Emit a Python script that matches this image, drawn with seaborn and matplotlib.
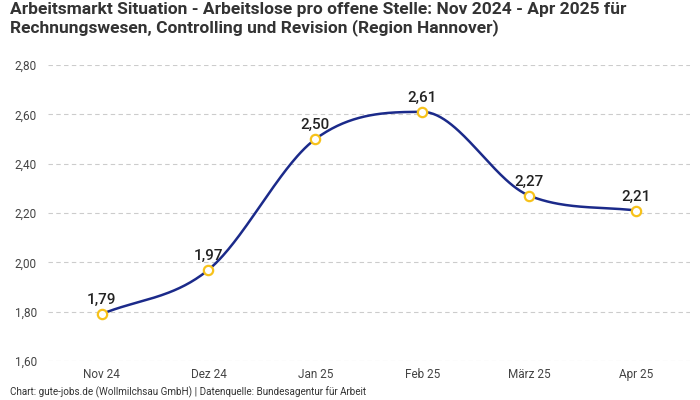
import numpy as np
import pandas as pd
import matplotlib
matplotlib.use('Agg')
import matplotlib.pyplot as plt
import seaborn as sns

monate = ['Nov 24', 'Dez 24', 'Jan 25', 'Feb 25', 'März 25', 'Apr 25']
werte = [1.79, 1.97, 2.50, 2.61, 2.27, 2.21]
y_ticks = [1.60, 1.80, 2.00, 2.20, 2.40, 2.60, 2.80]

titel = ('Arbeitsmarkt Situation - Arbeitslose pro offene Stelle: Nov 2024 - Apr 2025 für\n'
         'Rechnungswesen, Controlling und Revision (Region Hannover)')
quelle = 'Chart: gute-jobs.de (Wollmilchsau GmbH) | Datenquelle: Bundesagentur für Arbeit'

sns.set_theme(style='white')
plt.rcParams['font.family'] = ['Roboto', 'DejaVu Sans']

df = pd.DataFrame({'x': np.arange(len(monate)), 'wert': werte})


# monotone kubische Interpolation nur fuer die Linienform (wie chart.js "monotone")
def monotone_kurve(x, y, n=60):
    x = np.asarray(x, float)
    y = np.asarray(y, float)
    h = np.diff(x)
    d = np.diff(y) / h
    m = np.zeros_like(y)
    m[0], m[-1] = d[0], d[-1]
    for i in range(1, len(y) - 1):
        if d[i - 1] * d[i] <= 0:
            m[i] = 0
        else:
            m[i] = (d[i - 1] + d[i]) / 2
    for i in range(len(d)):
        if d[i] == 0:
            m[i] = m[i + 1] = 0
            continue
        a, b = m[i] / d[i], m[i + 1] / d[i]
        s = a * a + b * b
        if s > 9:
            t = 3 / np.sqrt(s)
            m[i] = t * a * d[i]
            m[i + 1] = t * b * d[i]
    xs, ys = [], []
    for i in range(len(d)):
        t = np.linspace(0, 1, n)
        h00 = 2 * t**3 - 3 * t**2 + 1
        h10 = t**3 - 2 * t**2 + t
        h01 = -2 * t**3 + 3 * t**2
        h11 = t**3 - t**2
        xs.append(x[i] + t * h[i])
        ys.append(h00 * y[i] + h10 * h[i] * m[i] + h01 * y[i + 1] + h11 * h[i] * m[i + 1])
    return np.concatenate(xs), np.concatenate(ys)


kx, ky = monotone_kurve(df['x'], df['wert'])
kurve = pd.DataFrame({'x': kx, 'wert': ky})

fig = plt.figure(figsize=(7, 4), dpi=100)
ax = fig.add_axes([0.0686, 0.0975, 0.917, 0.74])

sns.lineplot(data=kurve, x='x', y='wert', ax=ax, color='#1b2a8a', linewidth=1.8, sort=False, zorder=3)
sns.scatterplot(data=df, x='x', y='wert', ax=ax, s=45, color='white', edgecolor='#f7c21b',
                linewidth=1.6, zorder=4)

for xi, yi in zip(df['x'], df['wert']):
    ax.annotate(f'{yi:.2f}'.replace('.', ','), (xi, yi), xytext=(0, 5), textcoords='offset points',
                ha='center', va='bottom', fontsize=11, color='#222222', fontweight='medium')

ax.set_xlim(-0.5, len(monate) - 0.5)
ax.set_ylim(1.60, 2.80)
ax.set_xticks(df['x'])
ax.set_xticklabels(monate)
ax.set_yticks(y_ticks)
ax.set_yticklabels([f'{v:.2f}'.replace('.', ',') for v in y_ticks])
ax.tick_params(axis='both', labelsize=8.5, colors='#444444', length=0)
ax.tick_params(axis='x', pad=5)
ax.tick_params(axis='y', pad=8)
ax.set_xlabel('')
ax.set_ylabel('')
ax.grid(axis='y', color='#cccccc', linestyle=(0, (4, 3)), linewidth=0.8)
ax.grid(axis='x', visible=False)
for s in ax.spines.values():
    s.set_visible(False)

fig.text(0.014, 0.995, titel, ha='left', va='top', fontsize=12.5, fontweight='bold',
         color='#333333', linespacing=1.15)
fig.text(0.014, 0.006, quelle, ha='left', va='bottom', fontsize=7.1, color='#333333')

fig.savefig('out.png', dpi=100)
